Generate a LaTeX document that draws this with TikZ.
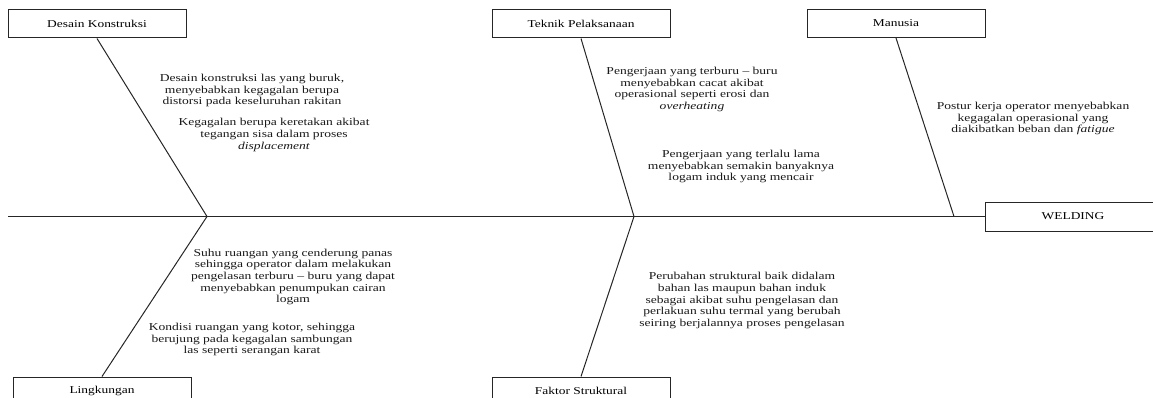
\documentclass[tikz,border=0pt]{standalone}
\usepackage{fontspec}
\setmainfont{Liberation Serif}[FakeStretch=1.28]
\begin{document}
\begin{tikzpicture}[x=1pt,y=-1pt,
  catbox/.style={draw=black!85,line width=1pt,minimum width=178pt,minimum height=28pt,inner sep=0pt,font=\fontsize{10.5}{11.5}\selectfont},
  bone/.style={draw=black!85,line width=1pt},
  cause/.style={align=center,inner sep=0pt,text=black!90,font=\fontsize{10.6}{11.6}\selectfont}]
\useasboundingbox (0,0) rectangle (1153,398);
\clip (0,0) rectangle (1153,398);
% category boxes
\node[catbox] (dk) at (97,24) {Desain Konstruksi};
\node[catbox] (tp) at (581,24) {Teknik Pelaksanaan};
\node[catbox] (mn) at (896,23.5) {Manusia};
\node[catbox,minimum height=29pt,minimum width=176pt] (wd) at (1073,216.5) {WELDING};
\node[catbox] (lk) at (102,391) {Lingkungan};
\node[catbox] (fs) at (581,391) {Faktor Struktural};
% spine
\coordinate (s0) at (8,216.5);
\coordinate (j1) at (207,216.5);
\coordinate (j2) at (634,216.5);
\coordinate (j3) at (954,216.5);
\draw[bone] (s0) -- (wd.west);
% bones
\draw[bone] (dk.south) -- (j1);
\draw[bone] (lk.north) -- (j1);
\draw[bone] (tp.south) -- (j2);
\draw[bone] (fs.north) -- (j2);
\draw[bone] (mn.south) -- (j3);
% causes
\node[cause] (c1) at (252,90.5) {Desain konstruksi las yang buruk,\\menyebabkan kegagalan berupa\\distorsi pada keseluruhan rakitan};
\node[cause] (c2) at (274,135) {Kegagalan berupa keretakan akibat\\tegangan sisa dalam proses\\\textit{displacement}};
\node[cause] (c3) at (692,89.5) {Pengerjaan yang terburu -- buru\\menyebabkan cacat akibat\\operasional seperti erosi dan\\\textit{overheating}};
\node[cause] (c4) at (741,166.5) {Pengerjaan yang terlalu lama\\menyebabkan semakin banyaknya\\logam induk yang mencair};
\node[cause] (c5) at (1033,118.5) {Postur kerja operator menyebabkan\\kegagalan operasional yang\\diakibatkan beban dan \textit{fatigue}};
\node[cause] (c6) at (293,277) {Suhu ruangan yang cenderung panas\\sehingga operator dalam melakukan\\pengelasan terburu -- buru yang dapat\\menyebabkan penumpukan cairan\\logam};
\node[cause] (c7) at (252,339.5) {Kondisi ruangan yang kotor, sehingga\\berujung pada kegagalan sambungan\\las seperti serangan karat};
\node[cause] (c8) at (742,300.5) {Perubahan struktural baik didalam\\bahan las maupun bahan induk\\sebagai akibat suhu pengelasan dan\\perlakuan suhu termal yang berubah\\seiring berjalannya proses pengelasan};
\end{tikzpicture}
\end{document}
